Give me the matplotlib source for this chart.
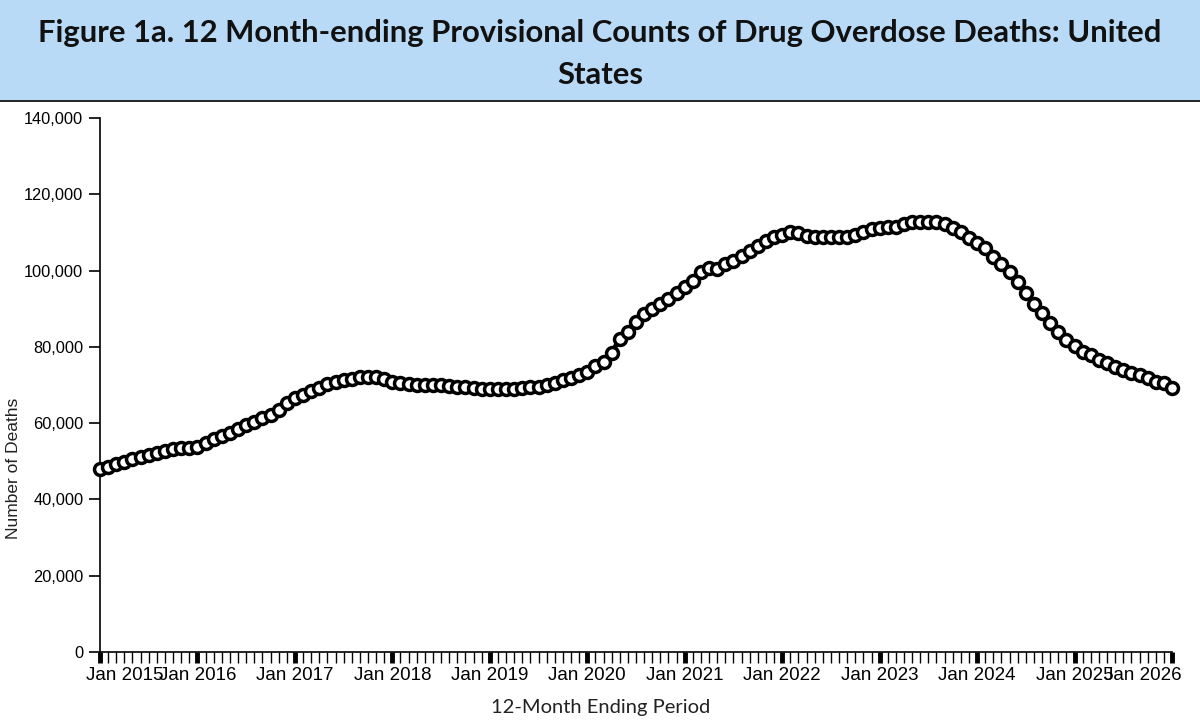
import matplotlib
matplotlib.use("Agg")
import matplotlib.pyplot as plt
import matplotlib.transforms as mtransforms
from matplotlib.patches import Rectangle
from matplotlib.lines import Line2D

# ---- data ----
title = "Figure 1a. 12 Month-ending Provisional Counts of Drug Overdose Deaths: United\nStates"
x_label = "12-Month Ending Period"
y_label = "Number of Deaths"
year_labels = [f"Jan {y}" for y in range(2015, 2027)]
y_ticks = [0, 20000, 40000, 60000, 80000, 100000, 120000, 140000]
deaths = [
    48000, 48500, 49300, 49800, 50600, 51100, 51700, 52200, 52700, 53200, 53500, 53500,
    53700, 54800, 55800, 56600, 57400, 58500, 59500, 60300, 61400, 62100, 63400, 65300,
    66600, 67500, 68500, 69300, 70200, 70800, 71300, 71700, 72000, 72100, 72100, 71700,
    70900, 70500, 70300, 70000, 70000, 70000, 70000, 69700, 69500, 69500, 69200, 69000,
    69000, 69000, 69000, 69000, 69100, 69400, 69600, 70100, 70600, 71300, 71900, 72600,
    73500, 75000, 76100, 78500, 82000, 84000, 86500, 88600, 90000, 91200, 92500, 94000,
    95700, 97300, 99600, 100800, 100500, 101600, 102500, 103800, 105100, 106500, 107800, 108800,
    109300, 110000, 109800, 109100, 108800, 108800, 108800, 108800, 108900, 109400, 110000, 110900,
    111200, 111300, 111500, 112200, 112800, 112800, 112800, 112700, 112100, 111100, 110100, 108600,
    107300, 105900, 103600, 101600, 99500, 97000, 94200, 91300, 88900, 86300, 83900, 81900,
    80100, 78700, 77800, 76500, 75800, 74700, 73900, 73200, 72600, 71800, 70900, 70400,
    69200,
]
months = list(range(len(deaths)))

W, H = 1200, 725
fig = plt.figure(figsize=(W / 100, H / 100), dpi=100)
fig.patch.set_facecolor("white")

# title band
fig.add_artist(Rectangle((0, 1 - 100 / H), 1, 100 / H, transform=fig.transFigure,
                         facecolor="#b9daf7", edgecolor="none", zorder=0))
fig.add_artist(Line2D([0, 1], [1 - 100.5 / H] * 2, transform=fig.transFigure,
                      color="black", lw=1.2))
fig.text(0.5, 1 - 54 / H, title, ha="center", va="center", fontsize=22.3,
         fontweight="bold", family="Lato", linespacing=1.62, color="#111111")

# axes in pixel coords
left, right, top, bottom = 100, 1172, 118, 652
ax = fig.add_axes([left / W, 1 - bottom / H, (right - left) / W, (bottom - top) / H])
ax.plot(months, deaths, color="black", lw=3.5, marker="o", ms=8.6,
        mfc="white", mec="black", mew=2.5, clip_on=False, zorder=3)

ax.set_xlim(0, len(deaths) - 1)
ax.set_ylim(0, 140000)
for s in ["top", "right"]:
    ax.spines[s].set_visible(False)
ax.spines["left"].set_linewidth(1.2)
ax.spines["bottom"].set_linewidth(1.2)

ax.set_yticks(y_ticks)
ax.set_yticklabels([f"{v:,}" for v in y_ticks], family="Liberation Sans", fontsize=11.8)
ax.tick_params(axis="y", length=8, width=1.2, pad=4)

major = list(range(0, len(deaths), 12))
ax.set_xticks(major)
ax.set_xticklabels(year_labels, family="Liberation Sans", fontsize=13.5)
ax.set_xticks(months, minor=True)
ax.tick_params(axis="x", which="major", length=8, width=3.5, pad=3)
ax.tick_params(axis="x", which="minor", length=8, width=1.0)

labels = ax.get_xticklabels()
labels[0].set_transform(labels[0].get_transform() +
                        mtransforms.ScaledTranslation(25 / 100, 0, fig.dpi_scale_trans))
labels[-1].set_transform(labels[-1].get_transform() +
                         mtransforms.ScaledTranslation(-29 / 100, 0, fig.dpi_scale_trans))

fig.text(601 / W, 1 - 707 / H, x_label, ha="center", va="center", fontsize=14.5,
         family="Lato", color="#222222")
fig.text(14 / W, 1 - 468 / H, y_label, ha="center", va="center", rotation=90,
         fontsize=12.5, family="Liberation Sans", color="#222222")

fig.savefig("out.png", dpi=100)
